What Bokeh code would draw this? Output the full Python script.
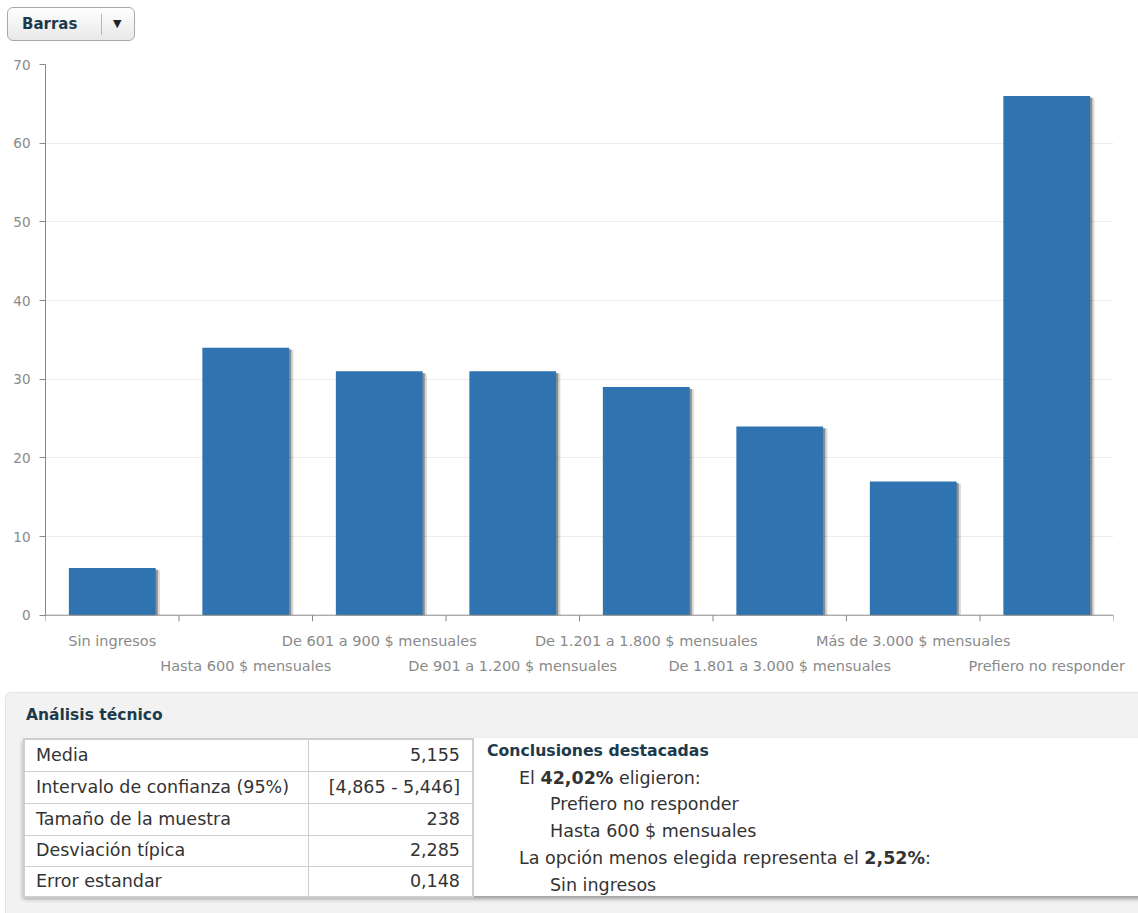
from bokeh.plotting import figure
from bokeh.models import Range1d, LinearAxis, FixedTicker, Div, ColumnDataSource, Span
from bokeh.layouts import column
from bokeh.transform import dodge
from bokeh.embed import file_html
from bokeh.resources import INLINE

# ---------------- data ----------------
categories = ["Sin ingresos", "Hasta 600 $ mensuales", "De 601 a 900 $ mensuales",
              "De 901 a 1.200 $ mensuales", "De 1.201 a 1.800 $ mensuales",
              "De 1.801 a 3.000 $ mensuales", "Más de 3.000 $ mensuales",
              "Prefiero no responder"]
counts = [6, 34, 31, 31, 29, 24, 17, 66]
y_ticks = [0, 10, 20, 30, 40, 50, 60, 70]

stat_names = ["Media", "Intervalo de confianza (95%)", "Tamaño de la muestra",
              "Desviación típica", "Error estandar"]
stat_values = ["5,155", "[4,865 - 5,446]", "238", "2,285", "0,148"]

most_pct = "42,02%"
most_chosen = ["Prefiero no responder", "Hasta 600 $ mensuales"]
least_pct = "2,52%"
least_chosen = ["Sin ingresos"]

FONT = "DejaVu Sans"
n = len(categories)
TICK_LEN = 0.8   # length of the boundary tick marks, in y units

# ---------------- button ----------------
button_html = f"""
<div style="position:relative;width:1138px;height:45px;font-family:'{FONT}',sans-serif;">
 <div style="position:absolute;left:7px;top:7px;width:128px;height:34px;border:1px solid #a8a8a8;border-radius:6px;
      background:linear-gradient(#ffffff,#e8e8e8);box-sizing:border-box;">
   <span style="position:absolute;left:14px;top:6px;font-weight:bold;font-size:15px;color:#1c3a4a;">Barras</span>
   <span style="position:absolute;left:93px;top:6px;width:1px;height:21px;background:#b5b5b5;"></span>
   <span style="position:absolute;left:105px;top:8px;font-size:11px;color:#222;">&#9660;</span>
 </div>
</div>
"""
button = Div(text=button_html, width=1138, height=45, margin=0)

# ---------------- chart ----------------
src = ColumnDataSource(dict(x=[i + 0.5 for i in range(n)], top=counts, cat=categories))
bounds_src = ColumnDataSource(dict(x=list(range(n + 1))))

p = figure(width=1138, height=647, x_range=Range1d(0, n), y_range=Range1d(-TICK_LEN, 70),
           output_backend="svg", toolbar_location=None, x_axis_location=None,
           min_border_left=45, min_border_right=25, min_border_top=19, min_border_bottom=71,
           margin=0)
p.outline_line_color = None
p.xgrid.visible = False

yax = p.yaxis[0]
yax.ticker = FixedTicker(ticks=y_ticks, minor_ticks=[])
yax.bounds = (0, 70)
yax.axis_line_color = "#888888"
yax.major_tick_line_color = "#888888"
yax.major_tick_out = 6
yax.major_tick_in = 0
yax.minor_tick_line_color = None
yax.major_label_text_color = "#8a8a8a"
yax.major_label_text_font = FONT
yax.major_label_text_font_size = "13.5px"
yax.major_label_standoff = 9
p.ygrid.ticker = FixedTicker(ticks=y_ticks[1:], minor_ticks=[])
p.ygrid.grid_line_color = "#ececec"

# category label rows (staggered)
for start, standoff in ((0, 11), (1, 6)):
    idx = list(range(start, n, 2))
    ax = LinearAxis(ticker=FixedTicker(ticks=[i + 0.5 for i in idx], minor_ticks=[]),
                    major_label_overrides={i + 0.5: categories[i] for i in idx},
                    axis_line_color=None, major_tick_line_color=None,
                    minor_tick_line_color=None, major_tick_out=0, major_tick_in=0,
                    major_label_standoff=standoff,
                    major_label_text_font=FONT, major_label_text_font_size="14.5px",
                    major_label_text_color="#8a8a8a")
    p.add_layout(ax, "below")

# bar shadows
p.vbar(x=dodge("x", 0.032, range=p.x_range), top=dodge("top", -0.3, range=p.y_range),
       width=0.65, source=src, fill_color="#000000", fill_alpha=0.15, line_color=None)
p.vbar(x=dodge("x", 0.016, range=p.x_range), top=dodge("top", -0.2, range=p.y_range),
       width=0.65, source=src, fill_color="#333333", fill_alpha=0.45, line_color=None)
# bars
p.vbar(x="x", top="top", width=0.65, source=src, fill_color="#2f74b0", line_color=None)

# x axis line and category boundary ticks
p.add_layout(Span(location=0, dimension="width", line_color="#888888", line_width=1))
p.segment(x0="x", x1="x", y0=0, y1=-TICK_LEN, source=bounds_src,
          line_color="#888888", line_width=1)

# ---------------- analysis panel ----------------
row_h = [32, 32, 32, 31, 31]
rows_html = "".join(
    f"<tr style='height:{h}px'>"
    f"<td style='border:1px solid #cfcfcf;padding:0 0 0 11px;overflow:hidden;'>{a}</td>"
    f"<td style='border:1px solid #cfcfcf;padding:0 12px 0 0;text-align:right;overflow:hidden;'>{b}</td></tr>"
    for a, b, h in zip(stat_names, stat_values, row_h))

concl_html = "<div style='font-weight:bold;font-size:15.7px;color:#1c3a4a;'>Conclusiones destacadas</div>"
concl_html += f"<div style='padding-left:32px'>El <b>{most_pct}</b> eligieron:</div>"
for c in most_chosen:
    concl_html += f"<div style='padding-left:63px'>{c}</div>"
concl_html += f"<div style='padding-left:32px'>La opción menos elegida representa el <b>{least_pct}</b>:</div>"
for c in least_chosen:
    concl_html += f"<div style='padding-left:63px'>{c}</div>"

panel_html = f"""
<div style="position:relative;width:1138px;height:221px;font-family:'{FONT}',sans-serif;color:#333;">
  <div style="position:absolute;left:5px;top:0px;width:1140px;height:221px;background:#f2f2f2;
       border-top-left-radius:6px;border-top:1px solid #e4e4e4;border-left:1px solid #e4e4e4;"></div>
  <div style="position:absolute;left:26px;top:12px;font-weight:bold;font-size:15.5px;color:#1c3a4a;white-space:nowrap;">Análisis técnico</div>
  <div style="position:absolute;left:23px;top:46px;width:1120px;height:158px;background:#ffffff;
       box-shadow:0 3px 4px rgba(0,0,0,0.35);"></div>
  <table style="position:absolute;left:23px;top:46px;width:449px;table-layout:fixed;border-collapse:collapse;
       font-size:17.5px;color:#333;background:#fff;border:2px solid #cfcfcf;white-space:nowrap;">
    <colgroup><col style="width:284px"><col style="width:165px"></colgroup>
    {rows_html}
  </table>
  <div style="position:absolute;left:487px;top:46px;line-height:26.7px;font-size:17.5px;color:#333;white-space:nowrap;">{concl_html}</div>
</div>
"""
panel = Div(text=panel_html, width=1138, height=221, margin=0)

layout = column(button, p, panel, spacing=0)
open("out.html", "w").write(file_html(layout, INLINE))
